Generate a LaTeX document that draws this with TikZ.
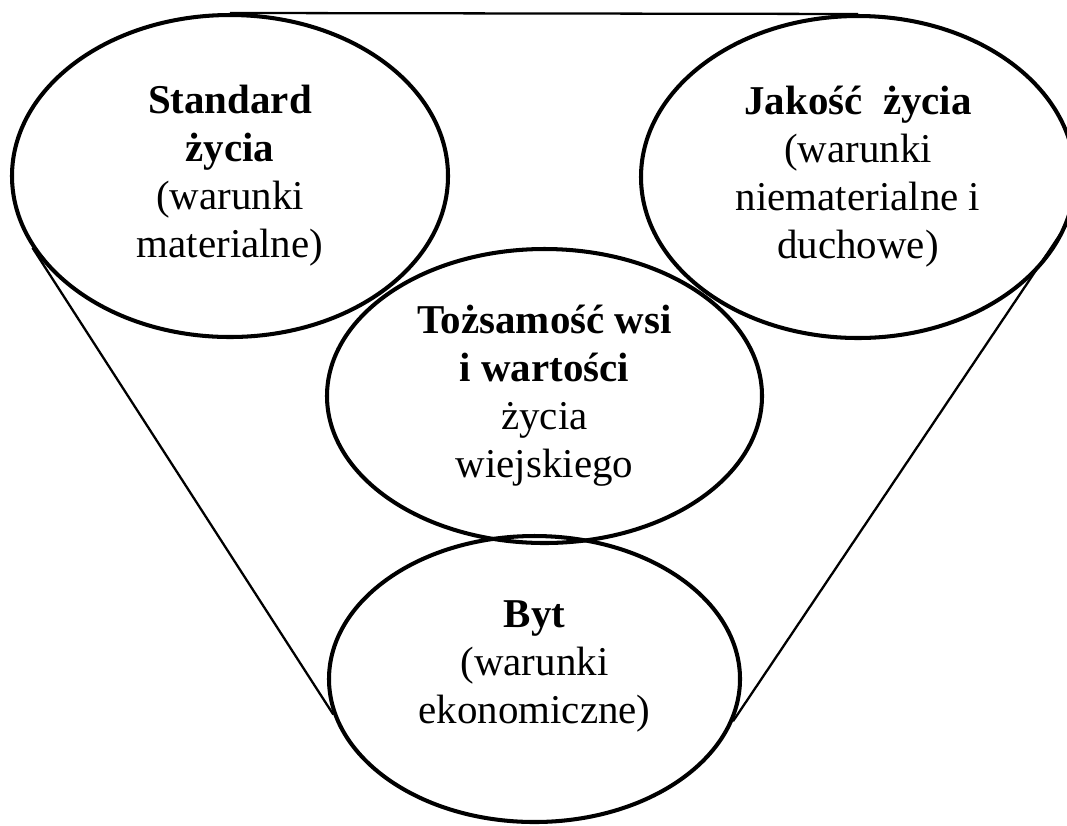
\documentclass[tikz,border=0pt]{standalone}
\usepackage{fontspec}
\setmainfont{Liberation Serif}
\usetikzlibrary{shapes}
\tikzstyle{oval} = [draw, ellipse, line width=2.3pt, inner sep=0pt,
    align=center, font=\fontsize{23.3}{27.3}\selectfont]
\tikzstyle{txt} = [align=center, font=\fontsize{23.3}{27.3}\selectfont]
\tikzstyle{tie} = [line width=1.3pt]

\begin{document}
\begin{tikzpicture}
    \useasboundingbox (0,0) rectangle (21.34,-16.5);
    % We start by placing the four ellipses
    \node [oval, minimum width=8.72cm, minimum height=6.44cm] (standard)
        at (4.60,-3.52) {\textbf{Standard}\\\textbf{życia}\\(warunki\\materialne)};
    \node [oval, minimum width=8.68cm, minimum height=6.44cm] (jakosc)
        at (17.16,-3.54) {\textbf{Jakość\ \ życia}\\(warunki\\niematerialne i\\duchowe)};
    \node [oval, minimum width=8.70cm, minimum height=5.88cm] (tozsamosc)
        at (10.89,-7.92) {\textbf{Tożsamość wsi}\\\textbf{i wartości}\\życia\\wiejskiego};
    \node [oval, minimum width=8.22cm, minimum height=5.72cm] (byt)
        at (10.69,-13.58) {};
    % The text of the bottom ellipse sits a little above its centre
    \node [txt] (bytlabel) at ([yshift=0.26cm]byt.center)
        {\textbf{Byt}\\(warunki\\ekonomiczne)};

    % Once the ellipses are placed, the funnel lines are easy
    \draw [tie] (standard.north) -- (jakosc.north);
    \draw [tie] (standard.200) -- (byt.190);
    \draw [tie] (jakosc.348) -- (byt.348);
\end{tikzpicture}
\end{document}
